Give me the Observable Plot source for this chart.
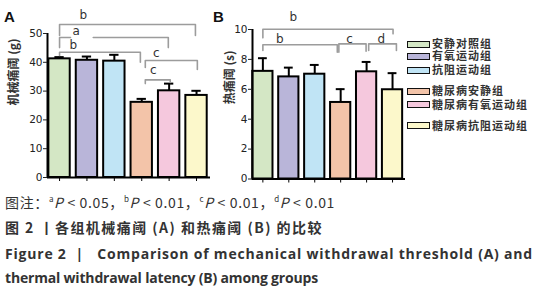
<!DOCTYPE html>
<html><head><meta charset="utf-8">
<script src="https://cdn.jsdelivr.net/npm/d3@7"></script>
<script src="https://cdn.jsdelivr.net/npm/@observablehq/plot@0.6"></script>
<style>
body{margin:0;background:#fff;}
#root{position:relative;width:538px;height:300px;overflow:hidden;background:#fff;}
.abs{position:absolute;white-space:nowrap;}
.sw{position:absolute;left:407px;width:21px;height:5px;border:1.2px solid #111;}
.lg{position:absolute;left:432px;font:bold 11px 'Noto Sans CJK SC';letter-spacing:1px;color:#333;line-height:11px;}
sup{font-size:8px;vertical-align:6px;line-height:0;}
</style></head>
<body><div id="root"></div>
<script>
const groups = ["安静对照组","有氧运动组","抗阻运动组","糖尿病安静组","糖尿病有氧运动组","糖尿病抗阻运动组"];
const colors = ["#d4e7c5","#b9b5d9","#c0e4f5","#f3c4a9","#f5c8dd","#fcf8cb"];
const mechMean = [41.2, 40.7, 40.4, 26.1, 30.1, 28.5];
const mechUpper = [41.8, 42.0, 42.6, 27.3, 32.6, 30.1];
const thermMean = [7.2, 6.83, 7.01, 5.12, 7.17, 5.97];
const thermUpper = [8.08, 7.45, 7.63, 6.01, 7.83, 7.08];
const mechTicks = [0,10,20,30,40,50];
const thermTicks = [0,2,4,6,8,10];
const mechTitle = "机械痛阈 (g)";
const thermTitle = "热痛阈 (s)";
// significance brackets (group-index units, value units)
const mechBrackets = [
  {id:"b1", pts:[[0,49.3],[0,53.1],[4.96,53.1],[4.96,49.3]]},
  {id:"a1", pts:[[0,45.1],[0,48.6],[0.4,48.6]]},
  {id:"a2", pts:[[1.23,48.6],[3.97,48.6],[3.97,45.1]]},
  {id:"b2", pts:[[0,42.4],[0,43.5],[2.95,43.5],[2.95,40.0]]},
  {id:"c1", pts:[[3.13,38.2],[3.13,40.6],[5.03,40.6],[5.03,37.5]]},
  {id:"c2", pts:[[3.13,32.6],[3.13,33.9],[4.04,33.9],[4.04,33.0]]}
];
const mechLabels = [
  {x:0.87,y:56.3,t:"b"},{x:0.61,y:50.7,t:"a"},{x:0.5,y:45.8,t:"b"},
  {x:3.53,y:43.1,t:"c"},{x:3.42,y:37.2,t:"c"}
];
const thermBrackets = [
  {id:"b1", pts:[[0,9.44],[0,10.02],[5.02,10.02],[5.02,9.71]]},
  {id:"b2", pts:[[0,8.6],[0,8.98],[2.87,8.98],[2.87,8.48]]},
  {id:"c", pts:[[2.93,8.48],[2.93,9.04],[3.98,9.04],[3.98,8.55]]},
  {id:"d", pts:[[4.08,8.6],[4.08,9.04],[5.15,9.04],[5.15,8.6]]}
];
const thermLabels = [
  {x:1.17,y:10.82,t:"b"},{x:0.65,y:9.38,t:"b"},{x:3.34,y:9.38,t:"c"},{x:4.57,y:9.38,t:"d"}
];

const HW = 0.39, CAP = 0.17;
function panel(mean, upper, ticks, title, brackets, labels, o){
  const data = groups.map((g,i)=>({i, g, mean:mean[i], upper:upper[i], c:colors[i]}));
  const lines = brackets.flatMap(b=>b.pts.map(p=>({id:b.id, x:p[0], y:p[1]})));
  const ymax = ticks[ticks.length-1];
  return Plot.plot({
    width:o.width, height:192,
    marginLeft:o.ml, marginRight:o.mr, marginTop:o.mt, marginBottom:o.mb,
    style:{background:"transparent", overflow:"visible"},
    x:{type:"linear", domain:o.xd},
    y:{domain:[0,ymax]},
    marks:[
      Plot.rect(data,{x1:d=>d.i-HW, x2:d=>d.i+HW, y1:0, y2:"mean", fill:"c", stroke:"#000", strokeWidth:2}),
      Plot.ruleX(data,{x:"i", y1:"mean", y2:"upper", stroke:"#000", strokeWidth:2}),
      Plot.ruleY(data,{y:"upper", x1:d=>d.i-CAP, x2:d=>d.i+CAP, stroke:"#000", strokeWidth:2}),
      Plot.ruleY([0],{stroke:"#000", strokeWidth:2}),
      Plot.ruleX([o.xd[0]],{y1:0, y2:ymax, stroke:"#000", strokeWidth:2}),
      Plot.axisY({ticks, tickSize:4, tickPadding:1, fontSize:10.5, fontFamily:"DejaVu Sans", color:"#222", label:null}),
      Plot.axisX({ticks:data.map(d=>d.i), tickFormat:()=>"", tickSize:4, label:null}),
      Plot.text([title],{frameAnchor:"left", rotate:-90, dx:-o.ld, fontSize:12, fontWeight:"bold", fontFamily:"Noto Sans CJK SC", fill:"#333"}),
      Plot.line(lines,{x:"x", y:"y", z:"id", stroke:"#9c9c9c", strokeWidth:1.6}),
      Plot.text(labels,{x:"x", y:"y", text:"t", fontSize:12, fontFamily:"DejaVu Sans", fill:"#333"})
    ]
  });
}
const root = document.getElementById("root");
function place(el, left, top){ el.style.position="absolute"; el.style.left=left+"px"; el.style.top=top+"px"; root.appendChild(el); return el; }

place(panel(mechMean, mechUpper, mechTicks, mechTitle, mechBrackets, mechLabels,
  {width:212, ml:47, mr:2, mt:33, mb:15, xd:[-0.44,5.51], ld:33}), 0, 0);
place(panel(thermMean, thermUpper, thermTicks, thermTitle, thermBrackets, thermLabels,
  {width:210, ml:42, mr:15, mt:29, mb:13.5, xd:[-0.4,5.5], ld:22}), 210, 0);

function div(html, style, fitRight){
  const d=document.createElement("div"); d.className="abs"; d.innerHTML=html; Object.assign(d.style, style); root.appendChild(d);
  if (fitRight){
    const w = d.getBoundingClientRect().width;
    const left = parseFloat(style.left);
    const n = d.textContent.length;
    d.style.letterSpacing = ((fitRight - left - w)/n).toFixed(3)+"px";
  }
  return d;
}
div("A",{left:"4px",top:"8px",font:"bold 15px 'Liberation Sans'",color:"#111"});
div("B",{left:"213px",top:"8px",font:"bold 15px 'Liberation Sans'",color:"#111"});

const legendY = [44, 56, 70, 91, 104.5, 125.5];
groups.forEach((g,i)=>{
  const s=document.createElement("div"); s.className="sw"; s.style.top=(legendY[i]-3.5)+"px"; s.style.background=colors[i]; root.appendChild(s);
  const t=document.createElement("div"); t.className="lg"; t.style.top=(legendY[i]-6)+"px"; t.textContent=g; root.appendChild(t);
});

div("图注：<sup>a</sup><i>P</i> &lt; 0.05，<sup>b</sup><i>P</i> &lt; 0.01，<sup>c</sup><i>P</i> &lt; 0.01，<sup>d</sup><i>P</i> &lt; 0.01",
  {left:"5px",top:"194px",font:"14px 'Noto Sans CJK SC'",color:"#333",lineHeight:"17px"}, 335);
div("图 2 丨各组机械痛阈 (A) 和热痛阈 (B) 的比较",
  {left:"5px",top:"218px",font:"bold 14px 'Noto Sans CJK SC'",color:"#333",lineHeight:"18px"}, 323);
div("Figure 2 &nbsp;| &nbsp; Comparison of mechanical withdrawal threshold (A) and",
  {left:"5px",top:"245px",font:"bold 14px 'Open Sans'",color:"#333",lineHeight:"18px"}, 533);
div("thermal withdrawal latency (B) among groups",
  {left:"5px",top:"269px",font:"bold 14px 'Open Sans'",color:"#333",lineHeight:"18px"}, 318);
</script></body></html>
